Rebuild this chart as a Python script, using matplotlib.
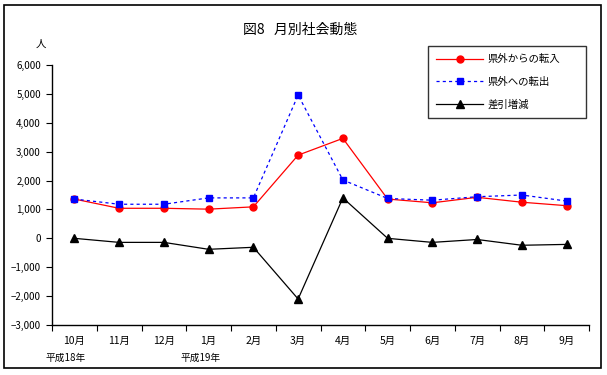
import matplotlib
matplotlib.use("Agg")
import matplotlib.pyplot as plt
from matplotlib.patches import Rectangle

plt.rcParams['font.family'] = ['Noto Sans CJK JP', 'DejaVu Sans']

months = ["10月", "11月", "12月", "1月", "2月", "3月", "4月", "5月", "6月", "7月", "8月", "9月"]
year_labels = {0: "平成18年", 3: "平成19年"}
inflow = [1360, 1040, 1040, 1010, 1090, 2880, 3460, 1360, 1230, 1420, 1250, 1130]
outflow = [1360, 1180, 1180, 1400, 1400, 4960, 2020, 1380, 1320, 1440, 1500, 1290]
net = [0, -140, -140, -380, -310, -2100, 1400, 0, -140, -40, -240, -210]
yticks = [-3000, -2000, -1000, 0, 1000, 2000, 3000, 4000, 5000, 6000]

W, H = 607, 375
fig = plt.figure(figsize=(W / 100, H / 100), dpi=100)
fig.patches.append(Rectangle((4 / W, 1 - 368 / H), 597 / W, 363 / H, transform=fig.transFigure,
                             fill=False, edgecolor='black', linewidth=1.2))

ax = fig.add_axes([52 / W, 1 - 325 / H, 537 / W, 260 / H])
x = list(range(len(months)))
ax.plot(x, inflow, color='red', linewidth=0.9, marker='o', markersize=5, label='県外からの転入')
ax.plot(x, outflow, color='blue', linewidth=0.9, linestyle=(0, (2.5, 2.5)), marker='s', markersize=5,
        label='県外への転出')
ax.plot(x, net, color='black', linewidth=0.9, marker='^', markersize=6, label='差引増減')

ax.set_xlim(-0.5, len(months) - 0.5)
ax.set_ylim(-3000, 6000)
ax.set_yticks(yticks)
ax.set_yticklabels([f"{v:,}".replace("-", "−") for v in yticks], fontsize=7)
ax.set_xticks([i - 0.5 for i in range(len(months) + 1)])
ax.set_xticklabels([])
ax.tick_params(axis='x', direction='out', length=4, width=0.8)
ax.tick_params(axis='y', direction='out', length=4, width=0.8, pad=4)

for i, m in enumerate(months):
    ax.annotate(m, (i, 0), xycoords=('data', 'axes fraction'), xytext=(0, -8),
                textcoords='offset points', ha='center', va='top', fontsize=7.5)
for i, lab in year_labels.items():
    ax.annotate(lab, (i, 0), xycoords=('data', 'axes fraction'), xytext=(-6, -20),
                textcoords='offset points', ha='center', va='top', fontsize=7)

for s in ['top', 'right']:
    ax.spines[s].set_visible(False)
ax.spines['left'].set_linewidth(1.0)
ax.spines['bottom'].set_linewidth(1.0)

fig.text(300 / W, 1 - 30 / H, "図8   月別社会動態", ha='center', va='center', fontsize=10)
fig.text(41 / W, 1 - 44 / H, "人", ha='center', va='center', fontsize=7.5)

leg = ax.legend(loc='center left', bbox_to_anchor=(428 / W, 1 - 121 / H, 158 / W, 78 / H),
                bbox_transform=fig.transFigure, mode='expand', frameon=True, fancybox=False,
                edgecolor='black', fontsize=7.5, handlelength=4.5, borderpad=0.8, labelspacing=1.2,
                handletextpad=0.4, borderaxespad=0)
leg.get_frame().set_linewidth(1.0)

fig.savefig("out.png", dpi=100)
